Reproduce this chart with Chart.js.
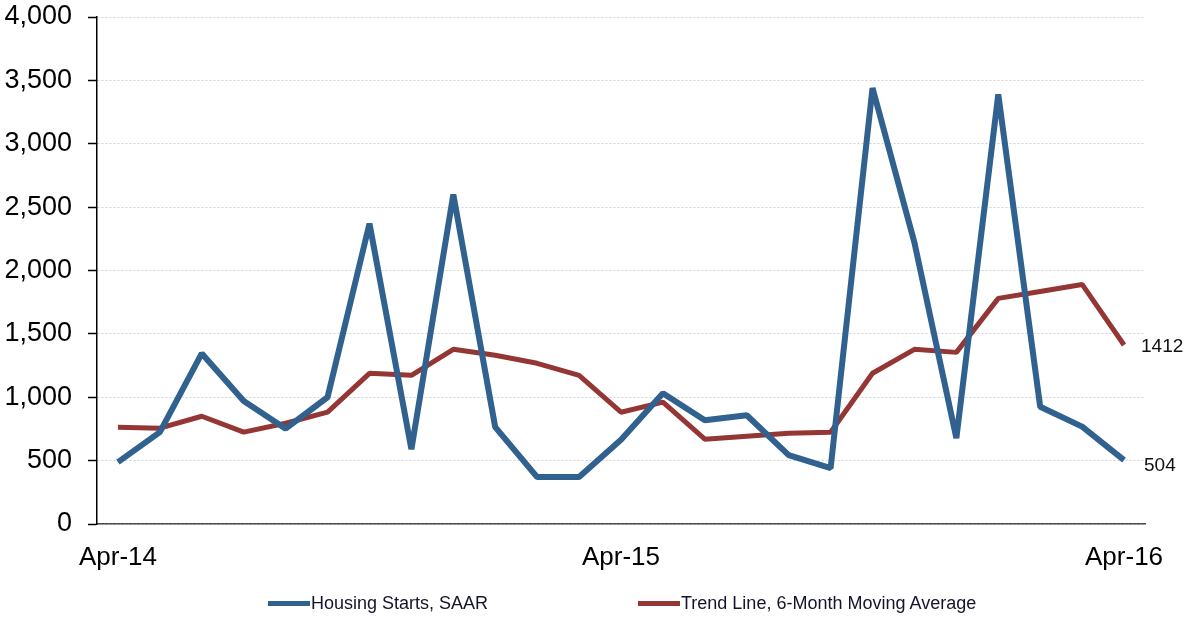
<!DOCTYPE html>
<html>
<head>
<meta charset="utf-8">
<script src="https://cdn.jsdelivr.net/npm/chart.js@4/dist/chart.umd.min.js"></script>
<style>
  html, body { margin: 0; padding: 0; background: #fff; }
  #wrap { position: relative; width: 1186px; height: 618px; }
  #legend { position: absolute; top: 592px; left: 0; width: 1186px; height: 22px;
    font-family: "Liberation Sans", Arial, sans-serif; font-size: 18px; color: #14142a; }
  .item { position: absolute; top: 0; line-height: 22px; white-space: nowrap; }
  .swatch { display: inline-block; width: 42px; height: 5px; vertical-align: middle; margin-right: 1px; position: relative; top: -1px; }
</style>
</head>
<body>
<div id="wrap">
  <canvas id="housing" width="1186" height="618"></canvas>
  <div id="legend"></div>
</div>
<script>
// monthly labels, Apr-14 .. Apr-16
var months = ["Apr-14","May-14","Jun-14","Jul-14","Aug-14","Sep-14","Oct-14","Nov-14","Dec-14",
  "Jan-15","Feb-15","Mar-15","Apr-15","May-15","Jun-15","Jul-15","Aug-15","Sep-15","Oct-15",
  "Nov-15","Dec-15","Jan-16","Feb-16","Mar-16","Apr-16"];

var startsVals = [488,725,1346,970,752,1000,2370,590,2600,764,370,370,665,1031,819,858,543,440,3440,2220,677,3390,925,768,504];
var trendVals = [764,756,850,725,795,882,1189,1173,1378,1331,1268,1173,882,961,669,693,716,724,1189,1378,1354,1780,1835,1890,1412];

var seriesNames = ["Housing Starts, SAAR", "Trend Line, 6-Month Moving Average"];
var seriesColors = ["#30618f", "#943634"];

// end-of-line value labels
var endLabels = {
  id: "endLabels",
  afterDatasetsDraw: function(chart) {
    var ctx = chart.ctx;
    var xs = chart.scales.x, ys = chart.scales.y;
    ctx.save();
    ctx.font = "19px 'Liberation Sans', Arial, sans-serif";
    ctx.fillStyle = "#111";
    ctx.textBaseline = "middle";
    ctx.textAlign = "left";
    chart.data.datasets.forEach(function(ds, i) {
      var last = ds.data.length - 1;
      var px = xs.getPixelForValue(last);
      var py = ys.getPixelForValue(ds.data[last]);
      ctx.fillText(String(ds.data[last]), px + (i == 0 ? 20 : 17), py + (i == 0 ? 6 : 2));
    });
    ctx.restore();
  }
};

new Chart(document.getElementById("housing"), {
  type: "line",
  data: {
    labels: months,
    datasets: [{
      label: seriesNames[0],
      data: startsVals,
      borderColor: seriesColors[0],
      backgroundColor: seriesColors[0],
      borderWidth: 6,
      borderJoinStyle: "bevel",
      pointRadius: 0,
      tension: 0,
      fill: false
    }, {
      label: seriesNames[1],
      data: trendVals,
      borderColor: seriesColors[1],
      backgroundColor: seriesColors[1],
      borderWidth: 5,
      borderJoinStyle: "bevel",
      pointRadius: 0,
      tension: 0,
      fill: false
    }]
  },
  options: {
    responsive: false,
    animation: false,
    layout: { padding: { left: 0, right: 41, top: 17, bottom: 0 } },
    plugins: {
      legend: { display: false },
      tooltip: { enabled: false }
    },
    scales: {
      x: {
        offset: true,
        grid: { display: false, drawTicks: false },
        border: { color: "#4a4a4a", width: 1.5 },
        ticks: {
          autoSkip: false,
          maxRotation: 0,
          padding: 18,
          color: "#000",
          font: { family: "'Liberation Sans', Arial, sans-serif", size: 26 },
          callback: function(v, i) { return i % 12 == 0 ? months[i] : ""; }
        },
        afterFit: function(s) { s.height = 94; }
      },
      y: {
        min: 0,
        max: 4000,
        ticks: {
          stepSize: 500,
          padding: 16,
          color: "#000",
          font: { family: "'Liberation Sans', Arial, sans-serif", size: 27 },
          callback: function(v) { return v.toLocaleString("en-US"); }
        },
        grid: {
          color: "#d0d0d0",
          lineWidth: 1,
          tickLength: 9,
          tickColor: "#000",
          tickBorderDash: [],
          tickWidth: 1.5
        },
        border: { color: "#000", width: 1.5, dash: [2, 2] },
        afterFit: function(s) {
          s.width = 97;
          s.paddingTop = 0;
          s.paddingBottom = 0;
        }
      }
    }
  },
  plugins: [endLabels]
});

// legend below the plot
var legendPos = [268, 638];
var lg = document.getElementById("legend");
seriesNames.forEach(function(name, i) {
  var it = document.createElement("div");
  it.className = "item";
  it.style.left = legendPos[i] + "px";
  var sw = document.createElement("span");
  sw.className = "swatch";
  sw.style.background = seriesColors[i];
  it.appendChild(sw);
  it.appendChild(document.createTextNode(name));
  lg.appendChild(it);
});
</script>
</body>
</html>
